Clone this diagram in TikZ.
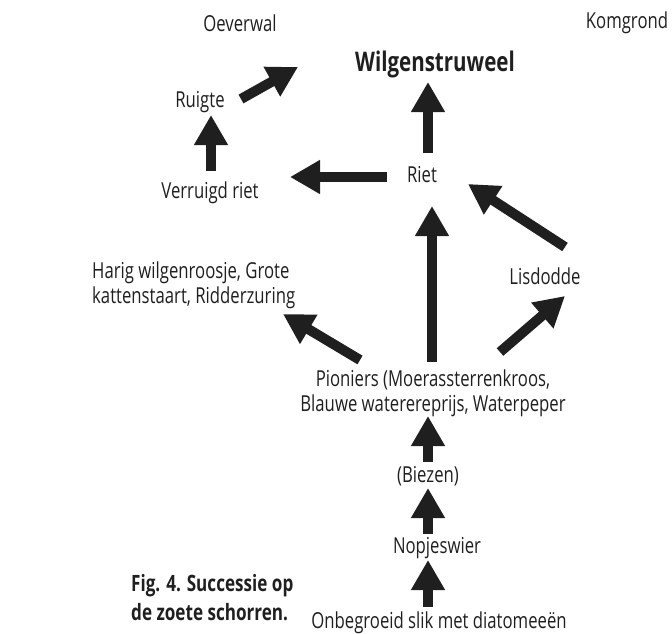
\documentclass[tikz,border=0pt]{standalone}
\usepackage{fontspec}
\setmainfont[FakeStretch=0.76]{Open Sans}
\usepackage{tikz}
\usetikzlibrary{arrows.meta}
\definecolor{inkt}{gray}{0.12}

\begin{document}
\begin{tikzpicture}[x=1pt,y=-1pt,
	soort/.style={inner sep=0pt,anchor=base,text=inkt,font=\fontsize{22}{24.5}\selectfont},
	pijl/.style={draw=inkt,line width=10pt,-{Triangle[width=32pt,length=30pt]}}]
	\useasboundingbox (0,0) rectangle (672,634);
	\node[soort] (oever) at (240, 32) {Oeverwal};
	\node[soort] (kom) at (627, 29) {Komgrond};
	\node[soort,font=\fontsize{27}{30}\bfseries] (wilg) at (435, 71) {Wilgenstruweel};
	\node[soort] (ruigte) at (200, 107) {Ruigte};
	\node[soort] (verruigd) at (210, 198) {Verruigd riet};
	\node[soort] (riet) at (422, 182) {Riet};
	\node[soort,anchor=base west,align=left] (harig) at (92, 303) {Harig wilgenroosje, Grote\\kattenstaart, Ridderzuring};
	\node[soort] (lisdodde) at (545, 284) {Lisdodde};
	\node[soort,align=center] (pioniers) at (433, 411) {Pioniers (Moerassterrenkroos,\\Blauwe waterereprijs, Waterpeper};
	\node[soort] (biezen) at (428, 482) {(Biezen)};
	\node[soort] (nopjes) at (437, 553) {Nopjeswier};
	\node[soort] (slik) at (439, 628) {Onbegroeid slik met diatomeeën};
	\node[soort,anchor=base west,align=left,font=\fontsize{22.5}{29}\bfseries] (fig) at (131, 620) {Fig. 4. Successie op\\de zoete schorren.};
	\coordinate (naar) at (298, 67);
	\draw[pijl] ([shift={(41,-8)}]ruigte.base) -- (naar);
	\draw[pijl] ([shift={(1,-27)}]verruigd.base) -- ([shift={(11,8)}]ruigte.base);
	\draw[pijl] ([shift={(-35,-5)}]riet.base) -- ([shift={(80,-21)}]verruigd.base);
	\draw[pijl] ([shift={(6,-29)}]riet.base) -- ([shift={(-7,11)}]wilg.base);
	\draw[pijl] ([shift={(20,-37)}]lisdodde.base) -- ([shift={(46,2)}]riet.base);
	\draw[pijl] ([shift={(-1,-49)}]pioniers.base) -- ([shift={(10,24)}]riet.base);
	\draw[pijl] ([shift={(-73,-51)}]pioniers.base) -- ([shift={(191,11)}]harig.base west);
	\draw[pijl] ([shift={(67,-59)}]pioniers.base) -- ([shift={(20,12)}]lisdodde.base);
	\draw[pijl] ([shift={(0,-20)}]biezen.base) -- ([shift={(-5,5)}]pioniers.base);
	\draw[pijl] ([shift={(-9,-19)}]nopjes.base) -- ([shift={(0,6)}]biezen.base);
	\draw[pijl] ([shift={(-11,-21)}]slik.base) -- ([shift={(-9,7)}]nopjes.base);
\end{tikzpicture}
\end{document}
